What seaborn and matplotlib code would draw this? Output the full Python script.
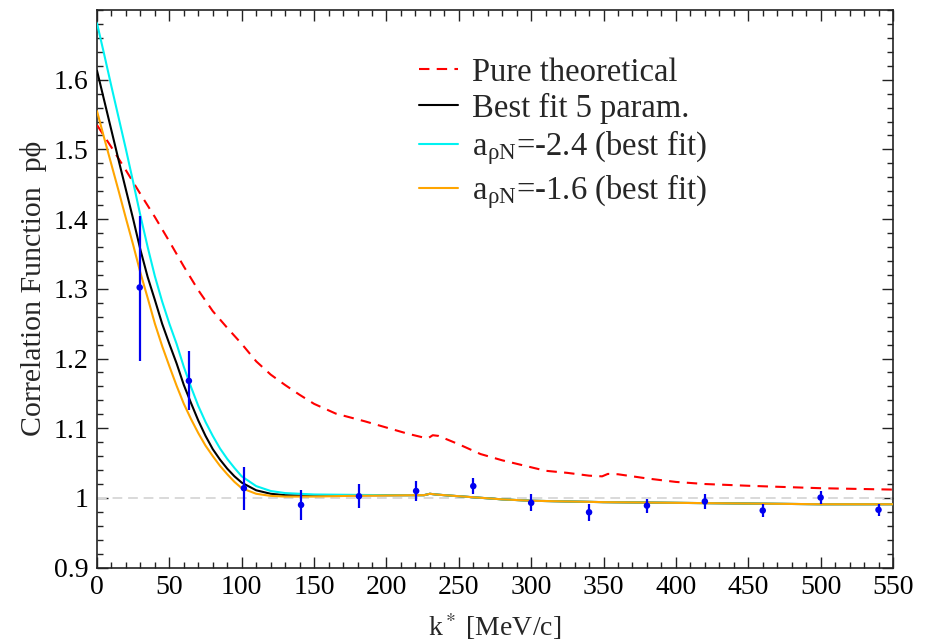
import numpy as np
import pandas as pd
import matplotlib
matplotlib.use("Agg")
import matplotlib.pyplot as plt
import seaborn as sns
from matplotlib.ticker import MultipleLocator

# ---------------- data ----------------
k_fit = [0, 5, 10, 15, 20, 25, 30, 35, 40, 45, 50, 55, 60, 65, 70, 75, 80, 85, 90,
         95, 100, 110, 120, 130, 140, 150, 175, 200, 220, 226, 230, 234, 240, 260,
         280, 300, 325, 350, 375, 400, 450, 500, 550]
best5 = [1.613, 1.570, 1.527, 1.484, 1.442, 1.400, 1.356, 1.317, 1.284, 1.250, 1.221,
         1.193, 1.162, 1.136, 1.111, 1.089, 1.070, 1.055, 1.042, 1.031, 1.022, 1.011,
         1.006, 1.004, 1.0035, 1.0035, 1.004, 1.004, 1.004, 1.004, 1.006, 1.005, 1.004,
         1.001, 0.998, 0.996, 0.995, 0.994, 0.9935, 0.993, 0.992, 0.991, 0.991]
a24 = [1.681, 1.636, 1.590, 1.545, 1.500, 1.453, 1.405, 1.360, 1.318, 1.282, 1.250,
       1.221, 1.188, 1.159, 1.132, 1.109, 1.089, 1.071, 1.056, 1.043, 1.031, 1.017,
       1.010, 1.007, 1.006, 1.005, 1.0045, 1.004, 1.004, 1.004, 1.006, 1.005, 1.004,
       1.001, 0.998, 0.996, 0.995, 0.994, 0.9935, 0.993, 0.992, 0.991, 0.991]
a16 = [1.555, 1.516, 1.478, 1.440, 1.401, 1.363, 1.323, 1.287, 1.250, 1.218, 1.189,
       1.161, 1.135, 1.113, 1.093, 1.075, 1.060, 1.046, 1.034, 1.023, 1.014, 1.006,
       1.003, 1.002, 1.002, 1.002, 1.003, 1.0035, 1.004, 1.004, 1.006, 1.005, 1.004,
       1.001, 0.998, 0.996, 0.995, 0.994, 0.9935, 0.993, 0.992, 0.991, 0.991]

k_theo = [0, 10, 20, 30, 40, 50, 60, 70, 80, 90, 100, 110, 120, 130, 140, 150, 165,
          185, 200, 215, 225, 229, 232, 236, 250, 265, 280, 300, 310, 325, 340, 349,
          353, 360, 380, 400, 420, 450, 465, 500, 550]
theo = [1.535, 1.503, 1.470, 1.436, 1.403, 1.368, 1.332, 1.298, 1.268, 1.244, 1.221,
        1.196, 1.177, 1.162, 1.148, 1.135, 1.121, 1.110, 1.101, 1.092, 1.087, 1.086,
        1.090, 1.089, 1.077, 1.063, 1.054, 1.044, 1.039, 1.036, 1.032, 1.031, 1.0345,
        1.034, 1.028, 1.023, 1.020, 1.0175, 1.0164, 1.014, 1.012]

k_data = [29.5, 63.5, 101.5, 141, 181, 220.5, 260, 300, 340, 380, 420, 460, 500, 540]
c_data = [1.302, 1.168, 1.014, 0.990, 1.0025, 1.010, 1.017, 0.993, 0.9795, 0.989,
          0.995, 0.982, 1.0006, 0.983]
err_lo = [0.105, 0.042, 0.031, 0.021, 0.017, 0.014, 0.012, 0.012, 0.012, 0.010,
          0.011, 0.009, 0.009, 0.0095]
err_hi = [0.103, 0.043, 0.031, 0.021, 0.017, 0.014, 0.012, 0.012, 0.012, 0.010,
          0.011, 0.010, 0.009, 0.0086]

# ---------------- style ----------------
sns.set_style("ticks")
plt.rcParams['font.family'] = ['Liberation Serif', 'DejaVu Serif']
plt.rcParams['mathtext.fontset'] = 'stix'
plt.rcParams['xtick.direction'] = 'in'
plt.rcParams['ytick.direction'] = 'in'

fig = plt.figure(figsize=(9.3, 6.41), dpi=100)
ax = fig.add_axes([0.1043, 0.1144, 0.8559, 0.870])

fits = pd.DataFrame({"k": k_fit, "best5": best5, "a24": a24, "a16": a16})
theory = pd.DataFrame({"k": k_theo, "theo": theo})

ax.axhline(1.0, color='#d9d9d9', lw=1.4, dashes=(5, 3), zorder=1)

sns.lineplot(data=theory, x="k", y="theo", ax=ax, color='#ff0000', lw=1.5,
             label='Pure theoretical', zorder=3)
ax.lines[-1].set_dashes((5, 3.5))
sns.lineplot(data=fits, x="k", y="best5", ax=ax, color='black', lw=1.5,
             label='Best fit 5 param.', zorder=3)
sns.lineplot(data=fits, x="k", y="a24", ax=ax, color='#00f2f2', lw=1.5,
             label=r'a$_\mathregular{ρN}$=-2.4 (best fit)', zorder=3)
sns.lineplot(data=fits, x="k", y="a16", ax=ax, color='#ffa500', lw=1.5,
             label=r'a$_\mathregular{ρN}$=-1.6 (best fit)', zorder=4)

ax.errorbar(k_data, c_data, yerr=[err_lo, err_hi], fmt='none', ecolor='#0000f0',
            elinewidth=1.6, capsize=0, zorder=5)
sns.scatterplot(x=k_data, y=c_data, ax=ax, color='#0000f0', s=22, edgecolor='none',
                zorder=6)

ax.set_xlim(0, 550)
ax.set_ylim(0.9, 1.7)
ax.xaxis.set_major_locator(MultipleLocator(50))
ax.xaxis.set_minor_locator(MultipleLocator(10))
ax.yaxis.set_minor_locator(MultipleLocator(0.02))
ax.set_yticks([0.9, 1.0, 1.1, 1.2, 1.3, 1.4, 1.5, 1.6])
ax.set_yticklabels(['0.9', '1', '1.1', '1.2', '1.3', '1.4', '1.5', '1.6'])
ax.tick_params(which='both', top=True, right=True, direction='in', width=1.0,
               colors='#222222', labelcolor='black', labelsize=20)
ax.tick_params(which='major', length=8)
ax.tick_params(which='minor', length=4)
ax.tick_params(axis='x', pad=5)
ax.tick_params(axis='y', pad=6)
for sp in ax.spines.values():
    sp.set_linewidth(1.2)
    sp.set_color('#222222')

ax.set_xlabel(r'k$^*$ [MeV/c]', fontsize=20, labelpad=8)
ax.set_ylabel('Correlation Function  pϕ', fontsize=21.5, labelpad=5)

leg = ax.legend(loc='upper left', bbox_to_anchor=(0.405, 0.915), frameon=False,
                fontsize=23.5, handlelength=1.17, handletextpad=0.43, labelspacing=0.15,
                borderpad=0, borderaxespad=0)

fig.savefig('out.png', dpi=100)
